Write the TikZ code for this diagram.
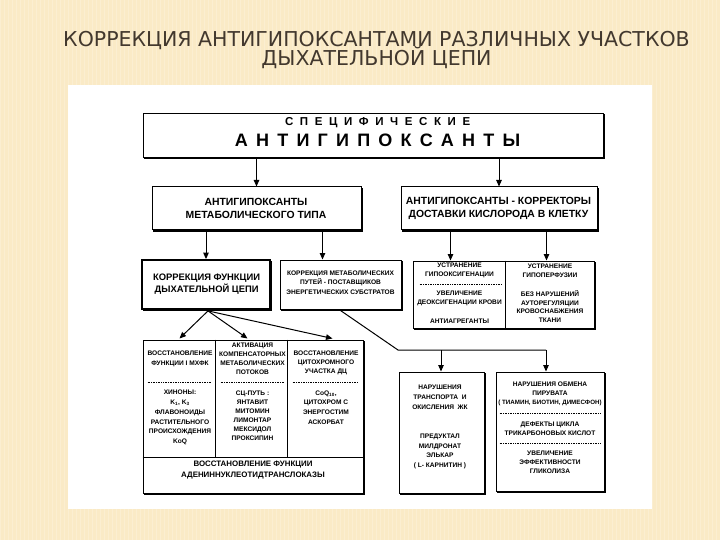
\documentclass[tikz,border=0pt]{standalone}
\usepackage{fontspec}
\setmainfont{Liberation Sans}
\newfontfamily\titlefont{DejaVu Sans}
\newfontfamily\dfont{Liberation Sans}
\usetikzlibrary{arrows.meta,calc}
\definecolor{bgcol}{RGB}{250,234,198}
\definecolor{stripecol}{RGB}{253,243,220}
\definecolor{titlecol}{RGB}{66,56,46}
\newcommand{\ga}{\kern6.6pt}
\newcommand{\gb}{\kern8.2pt}
\newcommand{\sm}[1]{\dfont\bfseries\fontsize{6.6}{#1}\selectfont}
\begin{document}
\begin{tikzpicture}[x=1pt,y=-1pt,
  box/.style={draw=black, line width=1pt, fill=white, inner sep=0pt,
    preaction={draw=black, fill=black, line width=1pt, transform canvas={shift={(1.3pt,-1.3pt)}}}},
  txt/.style={inner sep=0pt, align=center, text=black},
  conn/.style={line width=1pt, draw=black},
  arr/.style={conn, -{Triangle[length=6.5pt,width=5.5pt]}},
  sep/.style={line width=0.5pt, dash pattern=on 1pt off 0.7pt},
  ttl/.style={inner sep=0pt, anchor=base, text=titlecol, font=\titlefont\fontsize{20.5}{24}\selectfont}]
\useasboundingbox (0,0) rectangle (720,540);
\fill[bgcol] (0,0) rectangle (720,540);
\foreach \i in {0,4,...,720} {\draw[stripecol, line width=0.8pt, opacity=0.5] (\i,0) -- (\i,540);}
\fill[white] (68,85) rectangle (652,509);

% title
\node[ttl] (ttl1) at (376.5,46.5) {КОРРЕКЦИЯ АНТИГИПОКСАНТАМИ РАЗЛИЧНЫХ УЧАСТКОВ};
\node[ttl] (ttl2) at (376.5,66) {ДЫХАТЕЛЬНОЙ ЦЕПИ};

% top box
\node[box, minimum width=460pt, minimum height=44pt] (top) at (373,135.5) {};
\node[txt, anchor=base, font=\dfont\bfseries\fontsize{11.5}{12}\selectfont] (top1) at (377.6,126)
  {С\ga П\ga Е\ga Ц\ga И\ga Ф\ga И\ga Ч\ga Е\ga С\ga К\ga И\ga Е};
\node[txt, anchor=base, font=\dfont\bfseries\fontsize{18}{20}\selectfont] (top2) at (377.6,146.5)
  {А\gb Н\gb Т\gb И\gb Г\gb И\gb П\gb О\gb К\gb С\gb А\gb Н\gb Т\gb Ы};

% second row
\node[box, minimum width=209pt, minimum height=43pt] (meta) at (256.5,208.5) {};
\node[txt, font=\dfont\bfseries\fontsize{10.4}{13}\selectfont] (metaT) at (256,208.5)
  {АНТИГИПОКСАНТЫ\\МЕТАБОЛИЧЕСКОГО ТИПА};
\node[box, minimum width=196pt, minimum height=43pt] (deliv) at (499,208.5) {};
\node[txt, font=\dfont\bfseries\fontsize{10.4}{13}\selectfont] (delivT) at (498.5,208.5)
  {АНТИГИПОКСАНТЫ - КОРРЕКТОРЫ\\ДОСТАВКИ КИСЛОРОДА В КЛЕТКУ};

% third row
\node[box, line width=1.8pt, minimum width=128pt, minimum height=49pt] (resp) at (206,284.5) {};
\node[txt, font=\dfont\bfseries\fontsize{9.4}{12}\selectfont] (respT) at (206.6,284)
  {КОРРЕКЦИЯ ФУНКЦИИ\\ДЫХАТЕЛЬНОЙ ЦЕПИ};
\node[box, minimum width=121pt, minimum height=49pt] (metpath) at (340.5,284.5) {};
\node[txt, font=\sm{9.5}] (metpathT) at (340.5,282.5)
  {КОРРЕКЦИЯ МЕТАБОЛИЧЕСКИХ\\ПУТЕЙ - ПОСТАВЩИКОВ\\ЭНЕРГЕТИЧЕСКИХ СУБСТРАТОВ};

\node[box, minimum width=181pt, minimum height=67pt] (oxy) at (503.5,294.5) {};
\draw[conn] ($(oxy.north west)+(93,0)$) -- ($(oxy.south west)+(93,0)$);
\node[txt, font=\sm{9}] (oxyA) at (459.5,270.5) {УСТРАНЕНИЕ\\ГИПООКСИГЕНАЦИИ};
\draw[sep] ($(oxy.north west)+(7,24)$) -- ($(oxy.north west)+(89,24)$);
\node[txt, font=\sm{9}] (oxyB) at (459.5,298.5) {УВЕЛИЧЕНИЕ\\ДЕОКСИГЕНАЦИИ КРОВИ};
\node[txt, font=\sm{9}] (oxyC) at (459.5,321) {АНТИАГРЕГАНТЫ};
\node[txt, font=\sm{9}] (oxyD) at (550,270.5) {УСТРАНЕНИЕ\\ГИПОПЕРФУЗИИ};
\node[txt, font=\sm{8.8}] (oxyE) at (550,306.5) {БЕЗ НАРУШЕНИЙ\\АУТОРЕГУЛЯЦИИ\\КРОВОСНАБЖЕНИЯ\\ТКАНИ};

% bottom-left box
\node[box, minimum width=220pt, minimum height=153pt] (bl) at (253,416.5) {};
\draw[conn] ($(bl.north west)+(73,0)$) -- ($(bl.north west)+(73,118)$);
\draw[conn] ($(bl.north west)+(145,0)$) -- ($(bl.north west)+(145,118)$);
\draw[conn] ($(bl.north west)+(0,118)$) -- ($(bl.north east)+(0,118)$);
\draw[sep] ($(bl.north west)+(5,43)$) -- ($(bl.north west)+(69,43)$);
\draw[sep] ($(bl.north west)+(78,43)$) -- ($(bl.north west)+(141,43)$);
\draw[sep] ($(bl.north west)+(150,43)$) -- ($(bl.north west)+(216,43)$);
\node[txt, font=\sm{10}] (c1a) at (180,359) {ВОССТАНОВЛЕНИЕ\\ФУНКЦИИ I МХФК};
\node[txt, font=\sm{9.8}] (c1b) at (180,417.5)
  {ХИНОНЫ:\\K\textsubscript{1}, K\textsubscript{3}\\ФЛАВОНОИДЫ\\РАСТИТЕЛЬНОГО\\ПРОИСХОЖДЕНИЯ\\KoQ};
\node[txt, font=\sm{9}] (c2a) at (252.5,358.5) {АКТИВАЦИЯ\\КОМПЕНСАТОРНЫХ\\МЕТАБОЛИЧЕСКИХ\\ПОТОКОВ};
\node[txt, font=\sm{9}] (c2b) at (252.5,415.5)
  {СЦ-ПУТЬ :\\ЯНТАВИТ\\МИТОМИН\\ЛИМОНТАР\\МЕКСИДОЛ\\ПРОКСИПИН};
\node[txt, font=\sm{9}] (c3a) at (326,363) {ВОССТАНОВЛЕНИЕ\\ЦИТОХРОМНОГО\\УЧАСТКА ДЦ};
\node[txt, font=\sm{9.7}] (c3b) at (326,407.5) {CoQ\textsubscript{10},\\ЦИТОХРОМ С\\ЭНЕРГОСТИМ\\АСКОРБАТ};
\node[txt, font=\dfont\bfseries\fontsize{7.9}{11}\selectfont] (c4) at (253,470.5)
  {ВОССТАНОВЛЕНИЕ ФУНКЦИИ\\АДЕНИННУКЛЕОТИДТРАНСЛОКАЗЫ};

% bottom-right boxes
\node[box, minimum width=85pt, minimum height=121pt] (tr) at (441.5,432.5) {};
\node[txt, font=\sm{10}] (trA) at (440,397) {НАРУШЕНИЯ\\ТРАНСПОРТА\ \ И\\ОКИСЛЕНИЯ\ \ ЖК};
\node[txt, font=\sm{9.7}] (trB) at (440,451.5) {ПРЕДУКТАЛ\\МИЛДРОНАТ\\ЭЛЬКАР\\( L- КАРНИТИН )};

\node[box, minimum width=108pt, minimum height=119pt] (pyr) at (550,431.5) {};
\node[txt, font=\sm{9}] (pyrA) at (550,394) {НАРУШЕНИЯ ОБМЕНА\\ПИРУВАТА\\{\fontsize{6.2}{9}\selectfont( ТИАМИН, БИОТИН, ДИМЕСФОН)}};
\draw[sep] ($(pyr.north west)+(4,42)$) -- ($(pyr.north east)+(-4,42)$);
\node[txt, font=\sm{9}] (pyrB) at (550,428.5) {ДЕФЕКТЫ ЦИКЛА\\ТРИКАРБОНОВЫХ КИСЛОТ};
\draw[sep] ($(pyr.north west)+(4,72)$) -- ($(pyr.north east)+(-4,72)$);
\node[txt, font=\sm{9}] (pyrC) at (550,462) {УВЕЛИЧЕНИЕ\\ЭФФЕКТИВНОСТИ\\ГЛИКОЛИЗА};

% connectors
\draw[arr] (meta.north |- top.south) -- (meta.north);
\draw[arr] (deliv.north |- top.south) -- (deliv.north);
\draw[arr] (resp.north |- meta.south) -- (resp.north);
\coordinate (mpin) at ($(metpath.north)+(-18,0)$);
\draw[arr] (mpin |- meta.south) -- (mpin);
\coordinate (oxin1) at ($(oxy.north west)+(38,0)$);
\coordinate (oxin2) at ($(oxy.north west)+(134,0)$);
\draw[arr] (oxin1 |- deliv.south) -- (oxin1);
\draw[arr] (oxin2 |- deliv.south) -- (oxin2);

\coordinate (fan) at ($(resp.south)+(2,1)$);
\coordinate (f1) at ($(bl.north west)+(37,-1)$);
\coordinate (f2) at ($(bl.north west)+(105,-1)$);
\coordinate (f3) at ($(bl.north west)+(190,-1)$);
\draw[arr] (fan) -- (f1);
\draw[arr] (fan) -- (f2);
\draw[arr] (fan) -- (f3);

\coordinate (mpout) at ($(metpath.south)+(0,1)$);
\coordinate (bend1) at (398,350);
\coordinate (bend2) at (546,350);
\coordinate (j1) at (441,350);
\draw[conn] (mpout) -- (bend1) -- (bend2);
\draw[arr] (j1) -- (j1 |- tr.north);
\draw[arr] (bend2) -- (bend2 |- pyr.north);
\end{tikzpicture}
\end{document}
